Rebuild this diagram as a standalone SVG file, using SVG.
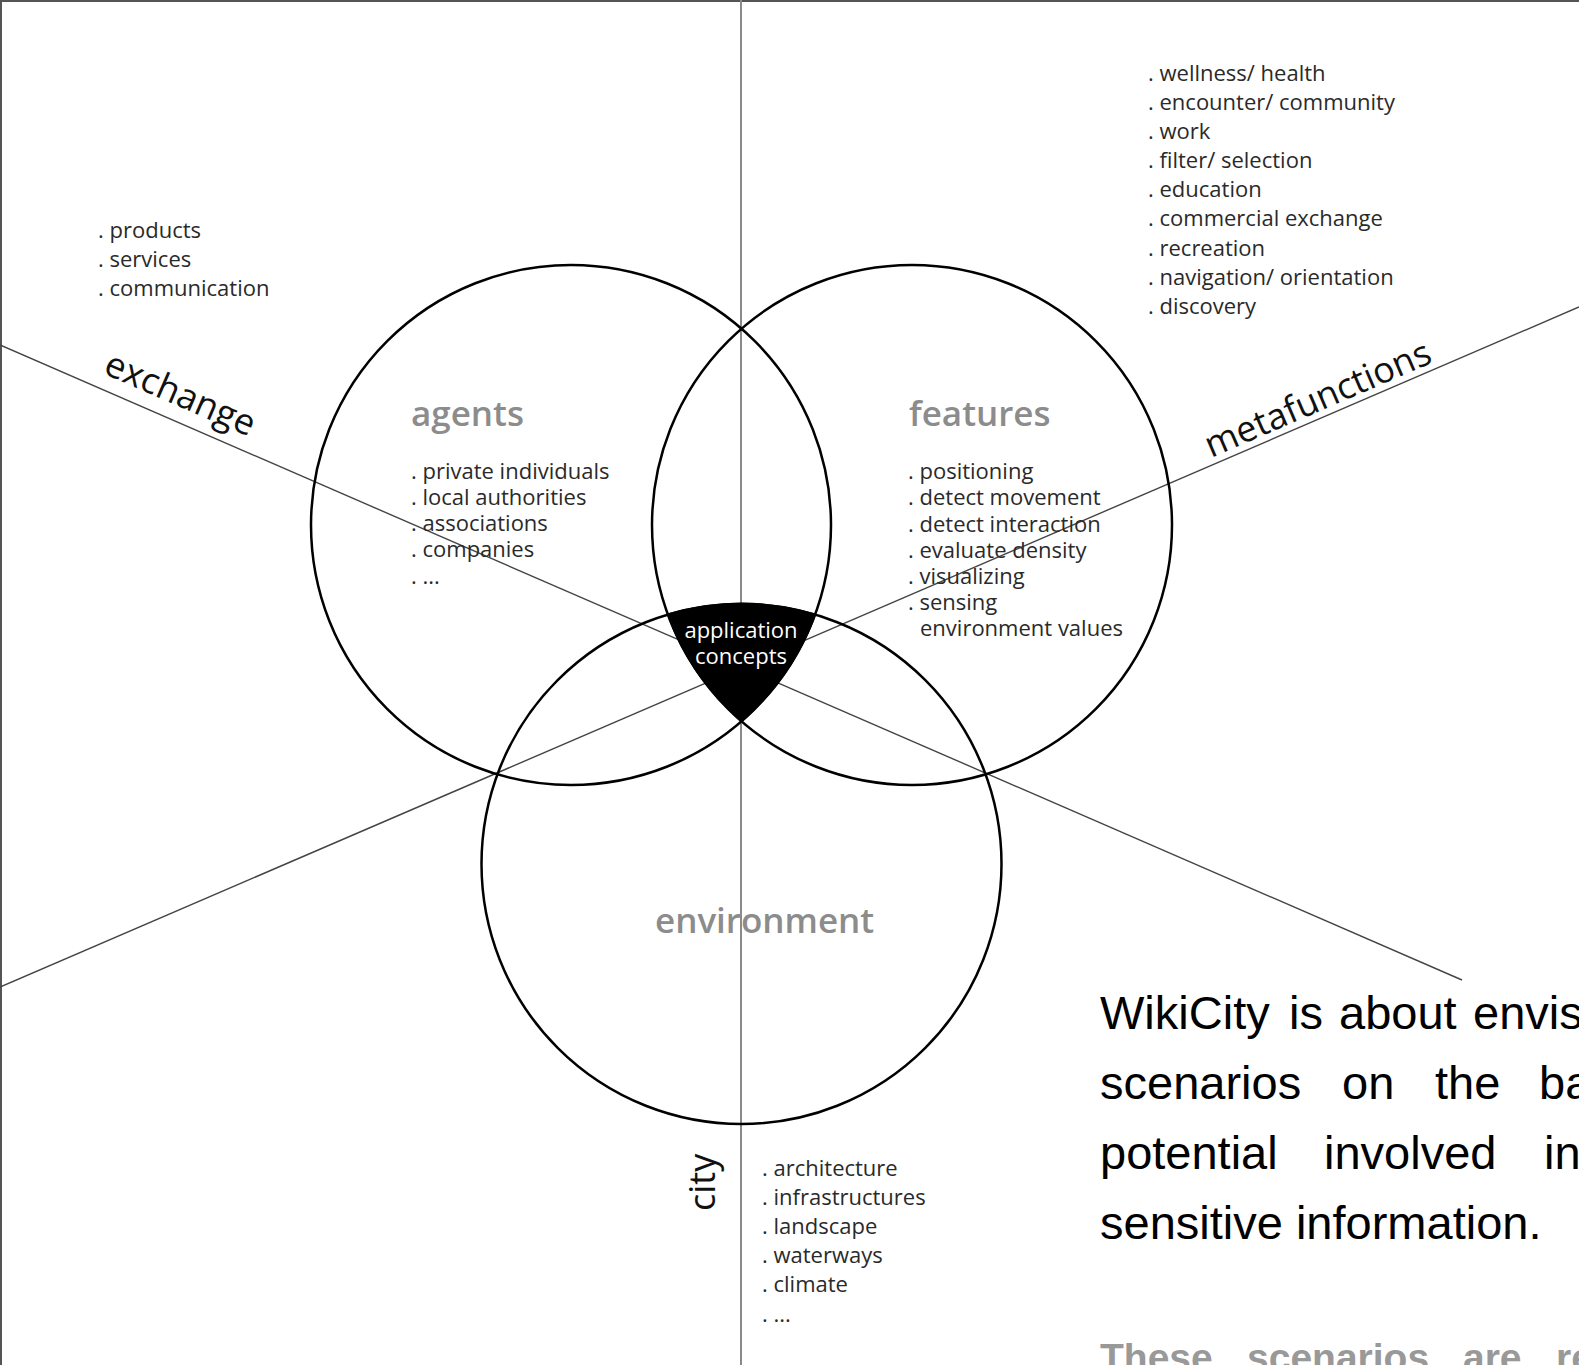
<svg xmlns="http://www.w3.org/2000/svg" width="1579" height="1365" viewBox="0 0 1579 1365">
<style>
.circ{fill:none;stroke:#000;stroke-width:2.5}
.ray{fill:none;stroke:#444;stroke-width:1.4}
.vert{fill:none;stroke:#8a8a8a;stroke-width:2}
.list{font-family:"Open Sans","Noto Sans",sans-serif;font-size:22px;fill:#2a2a2a}
.axis{font-family:"Open Sans","Noto Sans",sans-serif;font-size:36px;fill:#111}
.title{font-family:"Open Sans","Noto Sans",sans-serif;font-size:35px;font-weight:600;fill:#8c8c8c}
.para{font-family:"Liberation Sans",Arial,sans-serif;font-size:47px;fill:#000}
.para2{font-family:"Liberation Sans",Arial,sans-serif;font-size:39px;font-weight:bold;fill:#999}
</style>
<rect width="1579" height="1365" fill="#fff"/>
<g id="frame">
<line x1="0" y1="1" x2="1579" y2="1" stroke="#555" stroke-width="2"/>
<line x1="1" y1="0" x2="1" y2="1365" stroke="#555" stroke-width="2"/>
</g>
<g id="connectors">
<line class="vert" x1="741" y1="0" x2="741" y2="1365"/>
<line class="ray" x1="0" y1="345" x2="1462" y2="980"/>
<line class="ray" x1="0" y1="987" x2="1579" y2="307"/>
</g>
<g id="agents">
<circle class="circ" cx="571" cy="525" r="260"/>
<text class="title" x="411" y="426">agents</text>
<text class="list" x="411" y="479">. private individuals</text>
<text class="list" x="411" y="505">. local authorities</text>
<text class="list" x="411" y="531">. associations</text>
<text class="list" x="411" y="557">. companies</text>
<text class="list" x="411" y="584">. ...</text>
</g>
<g id="features">
<circle class="circ" cx="912" cy="525" r="260"/>
<text class="title" x="909" y="426">features</text>
<text class="list" x="908" y="479">. positioning</text>
<text class="list" x="908" y="505">. detect movement</text>
<text class="list" x="908" y="532">. detect interaction</text>
<text class="list" x="908" y="558">. evaluate density</text>
<text class="list" x="908" y="584">. visualizing</text>
<text class="list" x="908" y="610">. sensing</text>
<text class="list" x="920" y="636">environment values</text>
</g>
<g id="environment">
<circle class="circ" cx="741.5" cy="864" r="260"/>
<text class="title" x="655" y="933">environment</text>
</g>
<g id="application-concepts">
<path d="M 667.8 614.5 A 260 260 0 0 1 815.2 614.5 A 260 260 0 0 1 741.5 721.3 A 260 260 0 0 1 667.8 614.5 Z" fill="#000" stroke="#000" stroke-width="2"/>
<text class="list" x="741" y="638" text-anchor="middle" style="fill:#fff">application</text>
<text class="list" x="741" y="664" text-anchor="middle" style="fill:#fff">concepts</text>
</g>
<g id="exchange">
<text class="axis" transform="translate(102,373) rotate(23.5)">exchange</text>
<text class="list" x="98" y="238">. products</text>
<text class="list" x="98" y="267">. services</text>
<text class="list" x="98" y="296">. communication</text>
</g>
<g id="metafunctions">
<text class="axis" transform="translate(1211,458) rotate(-23.3)">metafunctions</text>
<text class="list" x="1148" y="81">. wellness/ health</text>
<text class="list" x="1148" y="110">. encounter/ community</text>
<text class="list" x="1148" y="139">. work</text>
<text class="list" x="1148" y="168">. filter/ selection</text>
<text class="list" x="1148" y="197">. education</text>
<text class="list" x="1148" y="226">. commercial exchange</text>
<text class="list" x="1148" y="256">. recreation</text>
<text class="list" x="1148" y="285">. navigation/ orientation</text>
<text class="list" x="1148" y="314">. discovery</text>
</g>
<g id="city">
<text class="axis" transform="translate(715,1211) rotate(-90)">city</text>
<text class="list" x="762" y="1176">. architecture</text>
<text class="list" x="762" y="1205">. infrastructures</text>
<text class="list" x="762" y="1234">. landscape</text>
<text class="list" x="762" y="1263">. waterways</text>
<text class="list" x="762" y="1292">. climate</text>
<text class="list" x="762" y="1322">. ...</text>
</g>
<g id="paragraph">
<text class="para" y="1029"><tspan x="1100">WikiCity</tspan><tspan x="1289">is</tspan><tspan x="1339">about</tspan><tspan x="1473">envis</tspan></text>
<text class="para" y="1099"><tspan x="1100">scenarios</tspan><tspan x="1342">on</tspan><tspan x="1435">the</tspan><tspan x="1539">ba</tspan></text>
<text class="para" y="1169"><tspan x="1100">potential</tspan><tspan x="1324">involved</tspan><tspan x="1544">in</tspan></text>
<text class="para" y="1239" x="1100">sensitive information.</text>
<text class="para2" y="1371"><tspan x="1100">These</tspan><tspan x="1247">scenarios</tspan><tspan x="1463">are</tspan><tspan x="1556">re</tspan></text>
</g>
</svg>
